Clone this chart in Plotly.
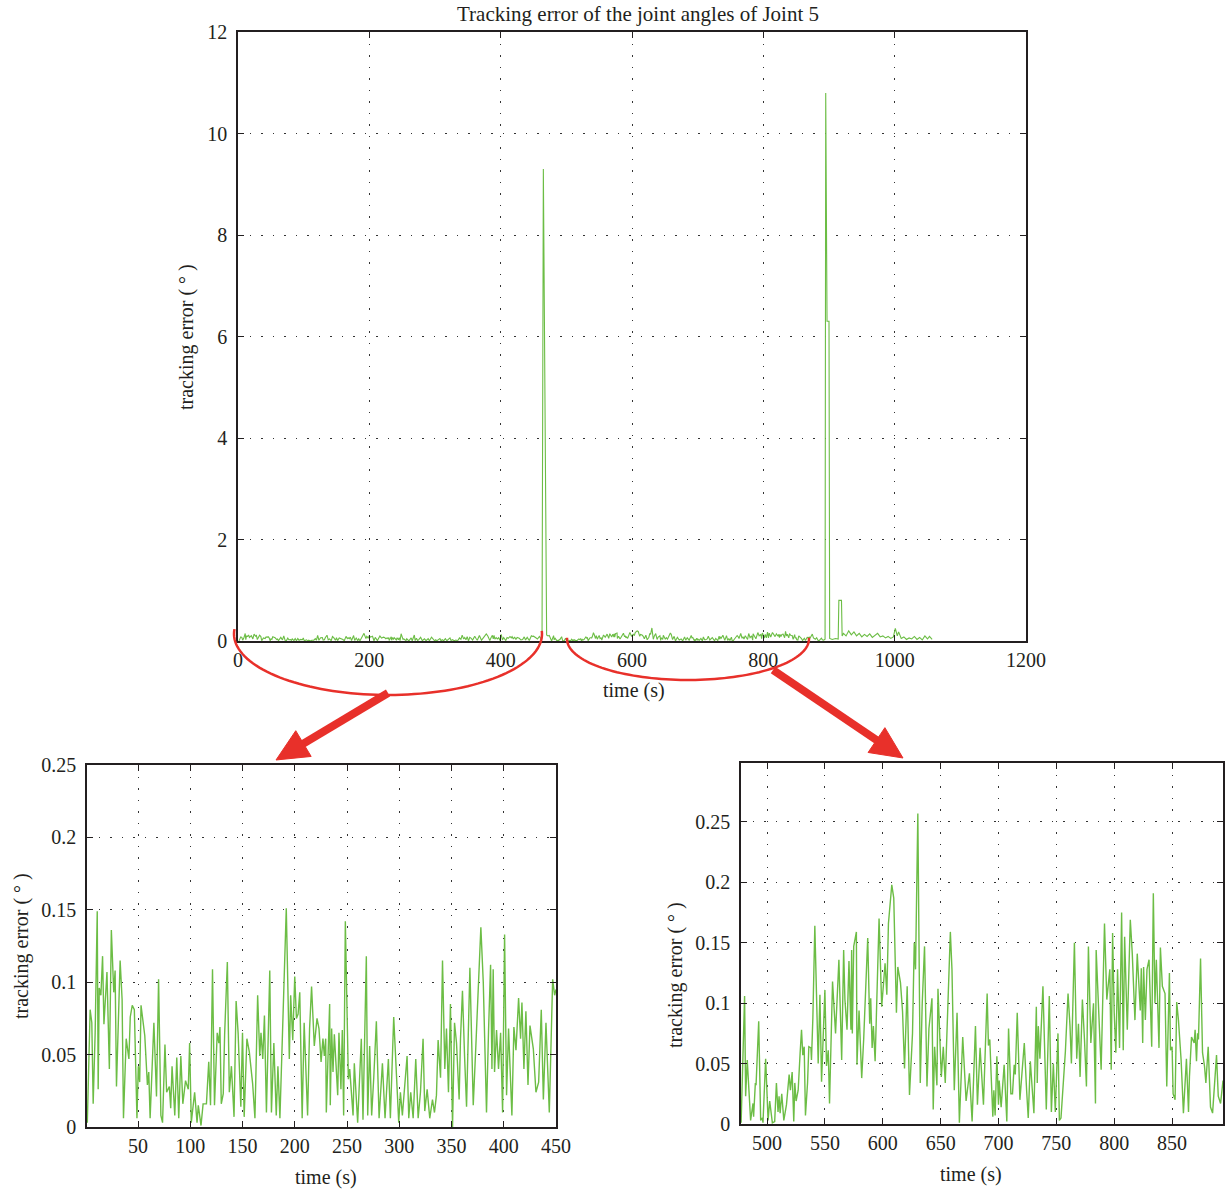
import numpy as np
import plotly.graph_objects as go

# ---------------- data ----------------
bl_time = [1.5, 4.2, 5.8, 7.1, 9.0, 11.0, 11.9, 12.9, 14.5, 16.1, 17.4, 20.3, 22.6, 24.5, 26.8, 28.1,
           29.4, 31.3, 32.9, 34.8, 36.1, 38.7, 41.3, 42.6, 44.5, 46.5, 47.7, 49.0, 50.3, 51.6, 52.9,
           56.5, 59.0, 60.3, 61.6, 65.2, 67.7, 69.7, 71.9, 73.5, 75.8, 77.4, 80.0, 81.3, 82.6, 85.2,
           87.1, 89.0, 91.0, 92.9, 95.5, 98.1, 99.4, 101.0, 104.2, 106.5, 107.7, 110.3, 112.3, 115.5,
           117.7, 119.4, 121.3, 123.2, 125.8, 127.4, 128.4, 129.7, 131.6, 132.9, 135.5, 137.4, 139.4,
           141.9, 143.9, 145.8, 148.4, 150.0, 151.6, 154.2, 156.5, 159.7, 161.9, 164.5, 166.5, 167.7,
           169.4, 171.0, 172.9, 176.1, 177.7, 180.0, 182.3, 183.9, 185.8, 188.7, 191.9, 194.8, 196.1,
           198.1, 200.0, 201.6, 203.2, 204.8, 207.1, 209.0, 212.3, 214.2, 216.1, 218.7, 221.3, 223.2,
           225.2, 227.0, 228.3, 229.6, 230.2, 233.4, 234.0, 235.3, 236.6, 237.9, 239.8, 241.1, 242.3,
           244.2, 245.5, 246.8, 248.4, 250.3, 251.3, 252.6, 254.2, 255.8, 257.0, 260.2, 263.7, 265.3,
           268.5, 269.8, 271.7, 273.6, 275.6, 278.1, 280.7, 283.9, 286.4, 289.6, 291.5, 294.7, 299.5,
           301.1, 303.0, 305.6, 307.5, 309.1, 311.0, 313.3, 315.8, 318.1, 320.3, 322.8, 324.4, 326.7,
           329.2, 331.8, 333.7, 335.6, 337.2, 339.5, 341.4, 343.6, 345.2, 347.1, 349.0, 351.0, 352.9,
           354.8, 357.3, 358.6, 360.5, 362.5, 364.4, 367.6, 370.8, 373.3, 375.6, 378.1, 380.4, 382.0,
           383.5, 385.5, 387.4, 388.7, 389.9, 391.2, 393.1, 395.0, 397.0, 398.9, 400.8, 402.7, 404.6,
           407.8, 409.7, 411.7, 414.2, 416.1, 417.4, 419.3, 421.2, 423.2, 425.1, 428.3, 430.8, 433.4,
           435.9, 437.9, 440.4, 443.6, 446.8, 448.7, 450.0]
bl_error = [0.003, 0.081, 0.072, 0.016, 0.065, 0.149, 0.026, 0.096, 0.091, 0.118, 0.071, 0.107, 0.040,
            0.136, 0.093, 0.108, 0.028, 0.070, 0.115, 0.088, 0.006, 0.061, 0.047, 0.076, 0.084, 0.081,
            0.053, 0.006, 0.042, 0.031, 0.084, 0.063, 0.029, 0.038, 0.006, 0.072, 0.021, 0.102, 0.008,
            0.003, 0.057, 0.024, 0.028, 0.013, 0.042, 0.008, 0.048, 0.006, 0.049, 0.016, 0.032, 0.026,
            0.058, 0.003, 0.024, 0.003, 0.015, 0.001, 0.016, 0.016, 0.045, 0.015, 0.109, 0.015, 0.065,
            0.058, 0.069, 0.016, 0.023, 0.064, 0.114, 0.024, 0.042, 0.007, 0.087, 0.065, 0.014, 0.065,
            0.007, 0.061, 0.052, 0.030, 0.006, 0.091, 0.049, 0.065, 0.047, 0.077, 0.010, 0.108, 0.010,
            0.058, 0.008, 0.042, 0.006, 0.084, 0.151, 0.047, 0.091, 0.060, 0.104, 0.075, 0.078, 0.093,
            0.006, 0.072, 0.008, 0.068, 0.097, 0.056, 0.075, 0.068, 0.045, 0.061, 0.049, 0.061, 0.010,
            0.085, 0.015, 0.068, 0.038, 0.064, 0.036, 0.022, 0.065, 0.026, 0.067, 0.008, 0.142, 0.063,
            0.033, 0.040, 0.024, 0.008, 0.044, 0.003, 0.061, 0.005, 0.118, 0.008, 0.056, 0.008, 0.034,
            0.073, 0.006, 0.044, 0.006, 0.047, 0.006, 0.076, 0.003, 0.024, 0.008, 0.029, 0.049, 0.006,
            0.024, 0.006, 0.047, 0.006, 0.024, 0.061, 0.011, 0.026, 0.006, 0.019, 0.010, 0.022, 0.060,
            0.034, 0.115, 0.040, 0.068, 0.024, 0.085, 0.000, 0.072, 0.058, 0.019, 0.061, 0.094, 0.049,
            0.014, 0.110, 0.015, 0.056, 0.091, 0.138, 0.100, 0.045, 0.010, 0.068, 0.112, 0.040, 0.109,
            0.038, 0.067, 0.040, 0.065, 0.010, 0.133, 0.022, 0.068, 0.008, 0.069, 0.053, 0.089, 0.061,
            0.086, 0.040, 0.080, 0.029, 0.070, 0.054, 0.024, 0.031, 0.081, 0.019, 0.072, 0.010, 0.102,
            0.091, 0.095]

gap_time = [453, 456, 459, 461, 463, 465, 470, 472, 474, 476]
gap_error = [0.07, 0.04, 0.09, 0.05, 0.06, 9.3, 0.12, 0.10, 0.11, 0.06]

br_time = [477.6, 480.6, 481.5, 482.9, 485.8, 487.9, 488.4, 489.9, 490.5, 492.8, 494.5, 496.0, 496.5,
           498.8, 500.9, 502.3, 504.6, 506.6, 508.1, 509.5, 510.4, 511.3, 512.7, 514.5, 516.8, 519.1,
           520.2, 521.7, 523.1, 524.0, 525.1, 526.9, 528.6, 529.8, 530.9, 532.1, 533.2, 535.0, 536.1,
           537.9, 538.4, 539.6, 541.3, 543.1, 544.2, 545.7, 547.1, 550.0, 551.4, 552.9, 554.0, 556.6,
           559.2, 562.1, 563.3, 564.5, 566.2, 567.3, 569.1, 570.8, 572.5, 573.1, 573.7, 574.9, 577.2,
           577.7, 579.5, 581.8, 583.5, 587.0, 588.7, 589.6, 590.8, 591.9, 593.4, 596.8, 599.1, 602.0,
           603.5, 604.9, 607.8, 609.5, 611.8, 613.0, 615.3, 617.1, 618.8, 621.1, 623.1, 625.7, 627.2,
           628.3, 630.3, 632.4, 634.1, 636.1, 638.2, 639.9, 642.5, 643.6, 644.8, 646.8, 647.7, 650.6,
           652.3, 654.0, 658.4, 659.8, 661.8, 664.2, 666.2, 669.1, 672.0, 674.9, 677.2, 680.1, 681.8,
           684.1, 687.0, 690.2, 691.3, 692.5, 693.6, 695.1, 696.0, 697.1, 698.6, 700.0, 700.6, 702.3,
           704.9, 707.2, 708.7, 710.7, 712.1, 713.6, 714.5, 716.2, 718.5, 722.3, 724.3, 725.7, 727.5,
           730.6, 732.7, 733.5, 734.4, 735.8, 738.4, 739.6, 741.3, 743.9, 745.7, 747.4, 749.1, 751.4,
           752.6, 754.0, 757.8, 760.1, 761.8, 763.0, 765.6, 767.6, 769.1, 770.5, 772.5, 774.3, 776.0,
           777.7, 779.8, 782.1, 783.8, 784.4, 786.7, 788.7, 791.6, 793.6, 796.2, 797.4, 798.6, 800.0,
           801.4, 802.9, 804.6, 806.4, 807.8, 809.0, 811.3, 813.9, 815.6, 817.9, 819.9, 822.5, 823.4,
           824.6, 825.4, 826.9, 828.3, 830.1, 832.4, 833.8, 835.2, 836.4, 838.7, 839.9, 841.6, 843.9,
           845.4, 847.7, 848.6, 850.0, 850.9, 852.6, 854.0, 855.5, 857.8, 859.8, 862.4, 864.2, 865.0,
           866.8, 869.1, 869.9, 871.1, 872.0, 872.8, 874.6, 876.3, 878.0, 879.2, 881.2, 883.2, 885.0,
           888.4, 889.9, 891.9, 894.0]
br_error = [0.001, 0.106, 0.023, 0.053, 0.003, 0.017, 0.006, 0.034, 0.032, 0.085, 0.003, 0.005, 0.001,
            0.054, 0.003, 0.019, 0.001, 0.002, 0.034, 0.010, 0.023, 0.009, 0.025, 0.003, 0.016, 0.041,
            0.028, 0.043, 0.002, 0.034, 0.019, 0.028, 0.059, 0.078, 0.057, 0.064, 0.007, 0.034, 0.064,
            0.063, 0.053, 0.088, 0.164, 0.103, 0.050, 0.107, 0.035, 0.111, 0.048, 0.061, 0.017, 0.118,
            0.075, 0.136, 0.086, 0.053, 0.144, 0.103, 0.078, 0.135, 0.078, 0.144, 0.075, 0.147, 0.159,
            0.049, 0.094, 0.038, 0.070, 0.154, 0.083, 0.104, 0.063, 0.081, 0.052, 0.170, 0.097, 0.133,
            0.107, 0.166, 0.198, 0.187, 0.092, 0.130, 0.117, 0.093, 0.046, 0.114, 0.024, 0.075, 0.150,
            0.128, 0.257, 0.034, 0.100, 0.147, 0.031, 0.079, 0.104, 0.012, 0.064, 0.032, 0.112, 0.039,
            0.064, 0.034, 0.159, 0.128, 0.028, 0.092, 0.001, 0.072, 0.019, 0.042, 0.002, 0.081, 0.016,
            0.063, 0.016, 0.108, 0.065, 0.070, 0.042, 0.006, 0.028, 0.007, 0.056, 0.016, 0.036, 0.014,
            0.049, 0.002, 0.079, 0.025, 0.025, 0.049, 0.041, 0.092, 0.020, 0.067, 0.028, 0.005, 0.052,
            0.009, 0.097, 0.034, 0.081, 0.054, 0.114, 0.064, 0.012, 0.106, 0.010, 0.050, 0.010, 0.075,
            0.003, 0.005, 0.060, 0.108, 0.081, 0.050, 0.150, 0.054, 0.083, 0.039, 0.103, 0.070, 0.031,
            0.147, 0.067, 0.100, 0.017, 0.144, 0.089, 0.045, 0.166, 0.103, 0.128, 0.045, 0.158, 0.092,
            0.059, 0.128, 0.063, 0.175, 0.061, 0.155, 0.078, 0.169, 0.141, 0.086, 0.141, 0.094, 0.129,
            0.067, 0.130, 0.086, 0.128, 0.136, 0.064, 0.191, 0.100, 0.136, 0.063, 0.146, 0.114, 0.108,
            0.031, 0.125, 0.061, 0.064, 0.025, 0.020, 0.101, 0.086, 0.053, 0.009, 0.054, 0.010, 0.039,
            0.072, 0.067, 0.078, 0.052, 0.075, 0.070, 0.137, 0.059, 0.048, 0.034, 0.064, 0.014, 0.009,
            0.057, 0.023, 0.017, 0.036]

tail_time = [895, 897, 900, 901, 905, 910, 914, 915, 919, 920, 922, 926, 930, 934, 938, 942, 946, 950,
             954, 958, 962, 966, 970, 974, 978, 982, 986, 990, 994, 998, 1001, 1004, 1006, 1010, 1014,
             1018, 1022, 1026, 1030, 1034, 1038, 1042, 1046, 1050, 1053, 1057]
tail_error = [10.8, 6.3, 6.3, 0.05, 0.03, 0.05, 0.04, 0.8, 0.8, 0.10, 0.15, 0.10, 0.20, 0.12, 0.18,
              0.10, 0.15, 0.08, 0.13, 0.09, 0.14, 0.07, 0.12, 0.15, 0.08, 0.10, 0.06, 0.09, 0.05, 0.08,
              0.25, 0.10, 0.18, 0.05, 0.08, 0.03, 0.06, 0.04, 0.09, 0.03, 0.07, 0.02, 0.10, 0.04, 0.09,
              0.03]

top_time = bl_time + gap_time + br_time + tail_time
top_error = bl_error + gap_error + br_error + tail_error

top_xticks = [0, 200, 400, 600, 800, 1000, 1200]
top_yticks = [0, 2, 4, 6, 8, 10, 12]
bl_xticks = [50, 100, 150, 200, 250, 300, 350, 400, 450]
br_xticks = [500, 550, 600, 650, 700, 750, 800, 850]
small_yticks = [0, 0.05, 0.1, 0.15, 0.2, 0.25]
small_yticktext = ["0", "0.05", "0.1", "0.15", "0.2", "0.25"]

# ---------------- styling ----------------
W, H = 1225, 1189
GREEN = "#6cbd45"
RED = "#e8302a"
INK = "#231f20"
SERIF = "Liberation Serif"


def px(x):
    return x / W


def py(y):
    return 1 - y / H


axis_style = dict(showline=True, linecolor=INK, linewidth=1.5, mirror="ticks", ticks="inside",
                  ticklen=6, tickwidth=1, tickcolor=INK, showgrid=True, gridcolor="#333333",
                  gridwidth=1, griddash="1.5px,10px", zeroline=False,
                  tickfont=dict(family=SERIF, size=20, color=INK))

fig = go.Figure()
fig.add_trace(go.Scatter(x=top_time, y=top_error, mode="lines", line=dict(color=GREEN, width=1.1),
                         xaxis="x", yaxis="y", showlegend=False))
fig.add_trace(go.Scatter(x=bl_time, y=bl_error, mode="lines", line=dict(color=GREEN, width=1.4),
                         xaxis="x2", yaxis="y2", showlegend=False))
fig.add_trace(go.Scatter(x=br_time, y=br_error, mode="lines", line=dict(color=GREEN, width=1.4),
                         xaxis="x3", yaxis="y3", showlegend=False))

fig.update_layout(
    width=W, height=H, margin=dict(l=0, r=0, t=0, b=0, autoexpand=False),
    paper_bgcolor="white", plot_bgcolor="white",
    xaxis=dict(domain=[px(238), px(1026)], range=[0, 1200], tickvals=top_xticks, anchor="y", **axis_style),
    yaxis=dict(domain=[py(641), py(32)], range=[0, 12], tickvals=top_yticks, anchor="x",
               ticklabelstandoff=5, **axis_style),
    xaxis2=dict(domain=[px(87), px(556)], range=[1.2, 450], tickvals=bl_xticks, anchor="y2", **axis_style),
    yaxis2=dict(domain=[py(1127), py(765)], range=[0, 0.25], tickvals=small_yticks,
                ticktext=small_yticktext, anchor="x2", ticklabelstandoff=5, **axis_style),
    xaxis3=dict(domain=[px(741), px(1223)], range=[477.5, 894], tickvals=br_xticks, anchor="y3", **axis_style),
    yaxis3=dict(domain=[py(1124), py(763)], range=[0, 0.2988], tickvals=small_yticks,
                ticktext=small_yticktext, anchor="x3", ticklabelstandoff=5, **axis_style),
)

texts = [
    ("Tracking error of the joint angles of Joint 5", 638, 14, 0, 21),
    ("time (s)", 634, 690, 0, 20),
    ("tracking error ( ° )", 186, 337, -90, 20),
    ("time (s)", 326, 1177, 0, 20),
    ("tracking error ( ° )", 21, 946, -90, 20),
    ("time (s)", 971, 1174, 0, 20),
    ("tracking error ( ° )", 675, 975, -90, 20),
]
for t, x, y, ang, size in texts:
    fig.add_annotation(text=t, x=px(x), y=py(y), xref="paper", yref="paper", showarrow=False,
                       textangle=ang, xanchor="center", yanchor="middle",
                       font=dict(family=SERIF, size=size, color=INK))


def arc_path(cx, cy, rx, ry, a0, a1, n=80):
    th = np.linspace(a0, a1, n)
    xs = cx + rx * np.cos(th)
    ys = cy + ry * np.sin(th)
    pts = [f"{px(a):.5f},{py(b):.5f}" for a, b in zip(xs, ys)]
    return "M " + " L ".join(pts)


fig.add_shape(type="path", path=arc_path(388, 634, 154, 61, -0.05, np.pi + 0.08),
              xref="paper", yref="paper", line=dict(color=RED, width=2.5))
fig.add_shape(type="path", path=arc_path(688, 639, 121, 41, -0.03, np.pi + 0.03),
              xref="paper", yref="paper", line=dict(color=RED, width=2.5))


def arrow(tail, tip, head_len=32, half_w=15, width=8):
    tx, ty = tail
    hx, hy = tip
    d = np.array([hx - tx, hy - ty], dtype=float)
    u = d / np.linalg.norm(d)
    n = np.array([-u[1], u[0]])
    base = np.array([hx, hy]) - u * head_len
    fig.add_shape(type="line", x0=px(tx), y0=py(ty), x1=px(base[0] + u[0] * 4), y1=py(base[1] + u[1] * 4),
                  xref="paper", yref="paper", line=dict(color=RED, width=width))
    p1 = base + n * half_w
    p2 = base - n * half_w
    path = (f"M {px(hx):.5f},{py(hy):.5f} L {px(p1[0]):.5f},{py(p1[1]):.5f} "
            f"L {px(p2[0]):.5f},{py(p2[1]):.5f} Z")
    fig.add_shape(type="path", path=path, xref="paper", yref="paper",
                  fillcolor=RED, line=dict(color=RED, width=1))


arrow((388, 693), (276, 760))
arrow((773, 670), (903, 758))

fig.write_html("out.html")
